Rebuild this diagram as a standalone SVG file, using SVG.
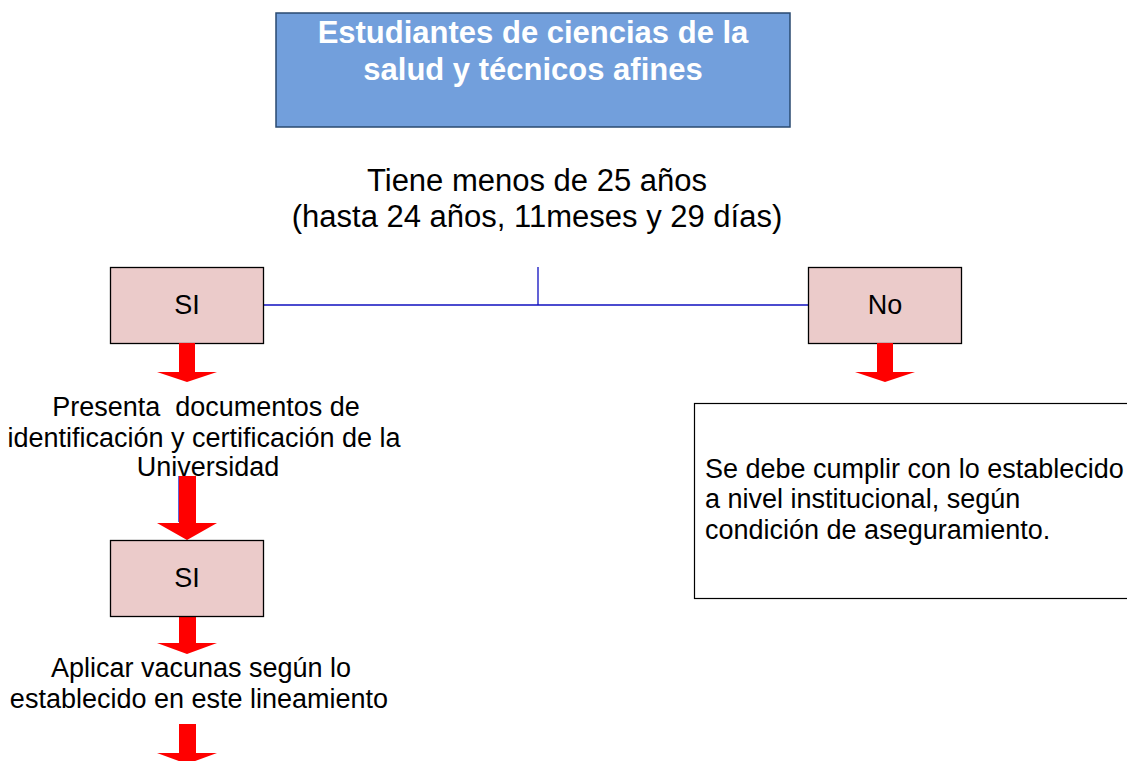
<svg xmlns="http://www.w3.org/2000/svg" width="1127" height="761" viewBox="0 0 1127 761">
<style>
text{font-family:"Liberation Sans",Arial,sans-serif;fill:#000}
.hdr{font-size:31px;font-weight:bold;fill:#fff}
.box{fill:#ebcbca;stroke:#000;stroke-width:1.3}
.lbl{font-size:27px}
.body{font-size:27px}
.arrow{fill:#ff0000}
.conn{stroke:#1010c0;stroke-width:1.3;fill:none}
</style>
<defs>
<path id="arr" d="M-8,0 H8 V29 H30 L0,39 L-30,29 H-8 Z"/>
</defs>
<rect width="1127" height="761" fill="#fff"/>
<g id="connectors">
<path class="conn" d="M263,305 H808 M538,267 V305"/>
<path class="conn" d="M179,476 V522"/>
</g>
<g id="header">
<rect x="276" y="13" width="514" height="114" fill="#729fdc" stroke="#2a4a70" stroke-width="1.5"/>
<text class="hdr" x="533" y="43" text-anchor="middle">Estudiantes de ciencias de la</text>
<text class="hdr" x="533" y="80" text-anchor="middle">salud y técnicos afines</text>
</g>
<g id="question">
<text x="537" y="191" font-size="31" text-anchor="middle">Tiene menos de 25 años</text>
<text x="537" y="227" font-size="31" text-anchor="middle">(hasta 24 años, 11meses y 29 días)</text>
</g>
<g id="si1">
<rect class="box" x="110.5" y="267.5" width="153" height="76"/>
<text class="lbl" x="187" y="314" text-anchor="middle">SI</text>
</g>
<g id="no">
<rect class="box" x="808.5" y="267.5" width="153" height="76"/>
<text class="lbl" x="885" y="314" text-anchor="middle">No</text>
</g>
<g id="arrows">
<use href="#arr" class="arrow" transform="translate(187,343)"/>
<use href="#arr" class="arrow" transform="translate(885,343)"/>
<path class="arrow" d="M179,476 H196 V523 H217 L187,540 L157,523 H179 Z"/>
<path class="arrow" d="M179,616 H196 V643 H217 L187,654 L157,643 H179 Z"/>
<path class="arrow" d="M179,724 H196 V753 H217 L187,764 L157,753 H179 Z"/>
</g>
<g id="presenta">
<text class="body" x="206" y="416" text-anchor="middle" xml:space="preserve">Presenta  documentos de</text>
<text class="body" x="204" y="447" text-anchor="middle">identificación y certificación de la</text>
<text class="body" x="208" y="476" text-anchor="middle">Universidad</text>
</g>
<g id="si2">
<rect class="box" x="110.5" y="540.5" width="153" height="76"/>
<text class="lbl" x="187" y="587" text-anchor="middle">SI</text>
</g>
<g id="aplicar">
<text class="body" x="201" y="677" text-anchor="middle">Aplicar vacunas según lo</text>
<text class="body" x="199" y="708" text-anchor="middle">establecido en este lineamiento</text>
</g>
<g id="institucional">
<rect x="694.5" y="403.5" width="440" height="195" fill="#fff" stroke="#000" stroke-width="1.2"/>
<text class="body" x="705" y="478">Se debe cumplir con lo establecido</text>
<text class="body" x="705" y="508">a nivel institucional, según</text>
<text class="body" x="705" y="539">condición de aseguramiento.</text>
</g>
</svg>
